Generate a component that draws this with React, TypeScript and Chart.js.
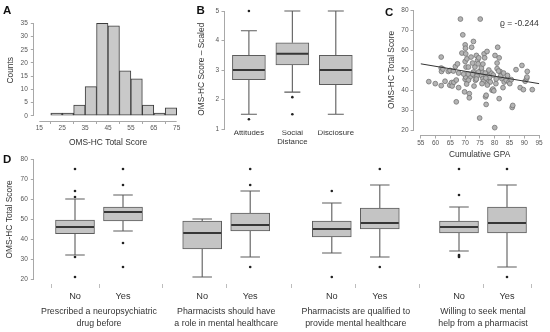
import React, { useEffect, useRef } from 'react';
import { Chart, registerables } from 'chart.js';

Chart.register(...registerables);

const FONT = "'Liberation Sans', Arial, Helvetica, sans-serif";
Chart.defaults.font.family = FONT;

// ---------- Panel A: histogram ----------
const histBinCenters = [22.5, 27.5, 32.5, 37.5, 42.5, 47.5, 52.5, 57.5, 62.5, 67.5, 72.5];
const histCounts = [1, 1, 4, 11, 35, 34, 17, 14, 4, 1, 3];
const histXTicks = [15, 25, 35, 45, 55, 65, 75];
const histYTicks = [0, 5, 10, 15, 20, 25, 30, 35];

// ---------- Panel B: subscale box plots ----------
const bCategories: (string | string[])[] = ['Attitudes', ['Social', 'Distance'], 'Disclosure'];
const bPositions = [1, 2, 3];
const bLow = [1.5, 2.25, 1.5];
const bQ1 = [2.67, 3.17, 2.5];
const bMed = [3, 3.55, 3];
const bQ3 = [3.5, 3.92, 3.5];
const bHigh = [4.33, 5, 5];
const bOutliers = [[5, 1.33], [2.08, 1.5], []];
const bYTicks = [1, 2, 3, 4, 5];

// ---------- Panel C: scatter vs GPA ----------
const gpa = [
  57.7, 59.9, 61.9, 61.9, 62, 61.9, 63.2, 64.3, 64.9, 64.8, 65.4, 65.6, 66.2, 66.7, 67.4, 67, 67.8, 67.8,
  68.4, 69.2, 68.9, 69.8, 70, 70.2, 70, 70.1, 70.2, 70, 70.6, 70.3, 71.1, 71.4, 71.4, 71.7, 71.1, 72, 72.2,
  72.8, 72.8, 73.1, 73.3, 73.5, 73.8, 74.2, 74.4, 74.6, 75.1, 74.9, 75.3, 75.5, 75.8, 76, 76.2, 76.4, 76.6,
  75.7, 76.9, 77.1, 77.4, 77.7, 77.9, 78.2, 78.5, 78.8, 79.1, 79.4, 79.7, 80, 80.1, 80.4, 80.8, 80.8, 81,
  81.5, 81.5, 81.8, 82.4, 82.8, 83.2, 83.9, 84.3, 84.8, 85.1, 85.6, 85.9, 86.1, 87.2, 88.6, 89.2, 89.7,
  90.3, 90.8, 91, 92.7, 72.5, 74, 76.8, 77, 79.5, 71, 73.8, 75.5, 78, 74.5, 76, 72.5, 69.5, 67, 82, 83,
  77.5, 80.5, 70.5, 73, 81.3, 77.1, 84.3, 90.9, 62.5, 66,
];
const omsTotal = [
  44.2, 43.2, 56.5, 51, 49.3, 42.2, 44.4, 49.3, 49.8, 42.4, 43.7, 42, 43.9, 51.8, 53.1, 34.1, 41.2, 48.5,
  75.5, 67.6, 58.5, 39.1, 45.4, 46.5, 62.6, 60.9, 58.1, 54.3, 55.6, 51.5, 51.5, 38.2, 36.1, 46.5, 44.9, 56.5, 61.4,
  64.3, 49, 47.3, 51.5, 44.9, 57.3, 54.8, 53.1, 56.1, 75.5, 26, 49.8, 47.3, 49, 45.7, 44.4, 58.1, 56.1,
  43.2, 36.6, 32.8, 59.3, 47.3, 44.9, 46.2, 44, 48.5, 39.9, 40.5, 39.6, 21.2, 57.3, 43.2, 53.5, 50.7, 61.4,
  56.1, 35.7, 49.3, 45.7, 41.2, 44, 44.9, 46.8, 44, 43.2, 45.2, 31.3, 32.3, 50.2, 41.2, 52.3, 40.2,
  44.4, 45.7, 49.3, 40.2, 48, 47, 48.5, 46, 47.5, 48, 45.5, 51, 50, 49, 53, 53.5, 48, 45, 47, 48.5,
  42.5, 45.5, 43, 42, 49.5, 37.4, 47.3, 46.5, 50.5, 49.5,
];
const fitX = [55, 95];
const fitY = [53.1, 43.2];
const cXTicks = [55, 60, 65, 70, 75, 80, 85, 90, 95];
const cYTicks = [20, 30, 40, 50, 60, 70, 80];
const rhoLabel = 'ϱ = -0.244';

// ---------- Panel D: grouped box plots ----------
const dGroupLabels = [
  ['Prescribed a neuropsychiatric', 'drug before'],
  ['Pharmacists should have', 'a role in mental healthcare'],
  ['Pharmacists are qualified to', 'provide mental healthcare'],
  ['Willing to seek mental', 'help from a pharmacist'],
];
const dGroupCenters = [0.5, 3.15, 5.85, 8.5];
const dCategories = ['No', 'Yes', 'No', 'Yes', 'No', 'Yes', 'No', 'Yes'];
const dPositions = [0, 1, 2.65, 3.65, 5.35, 6.35, 8, 9];
const dLow = [32, 44, 21, 31, 33, 31, 34, 26];
const dQ1 = [42.7, 49, 35, 44, 41, 45, 43, 43];
const dMed = [46, 53.5, 43, 47, 45, 48, 46, 48];
const dQ3 = [49.5, 56, 49, 53, 49, 55.5, 49, 56];
const dHigh = [60, 62, 50, 64, 58, 67, 56, 67];
const dOutliers = [
  [75, 64, 61, 31, 21],
  [75, 67, 38, 26],
  [],
  [75, 67, 26],
  [64, 21],
  [75, 26],
  [75, 62, 32, 31.5, 31],
  [75, 21],
];
const dYTicks = [20, 30, 40, 50, 60, 70, 80];

// ---------- styling ----------
const AXIS = '#a8a8a8';
const TICKTXT = '#555555';
const TXT = '#333333';
const numFont = { family: FONT, size: 6.5 };
const titleFont = { family: FONT, size: 8.4 };

function tickSetter(values: number[]) {
  return (scale: any) => {
    scale.ticks = values.map((v) => ({ value: v }));
  };
}
function zeroPad(s: any) {
  s.paddingLeft = 0;
  s.paddingRight = 0;
  s.paddingTop = 0;
  s.paddingBottom = 0;
}
function fixWidth(w: number) {
  return (s: any) => {
    s.width = w;
    zeroPad(s);
  };
}
function fixHeight(h: number) {
  return (s: any) => {
    s.height = h;
    zeroPad(s);
  };
}

function rAxis(ids: string[]) {
  return {
    id: 'rAxis',
    afterDraw(chart: any) {
      const { ctx, chartArea } = chart;
      ctx.save();
      ctx.strokeStyle = AXIS;
      ctx.lineWidth = 1;
      ids.forEach((id) => {
        const s = chart.scales[id];
        const t = s.ticks;
        if (!t || !t.length) return;
        const a = s.getPixelForValue(t[0].value);
        const b = s.getPixelForValue(t[t.length - 1].value);
        ctx.beginPath();
        if (s.isHorizontal()) {
          const yy = Math.round(chartArea.bottom) + 0.5;
          ctx.moveTo(a, yy);
          ctx.lineTo(b, yy);
        } else {
          const xx = Math.round(chartArea.left) - 0.5;
          ctx.moveTo(xx, a);
          ctx.lineTo(xx, b);
        }
        ctx.stroke();
      });
      ctx.restore();
    },
  };
}

function boxExtras(
  pos: number[], low: number[], med: number[], q1: number[], q3: number[], high: number[],
  boxW: number, capW: number
) {
  return {
    id: 'boxExtras',
    afterDatasetsDraw(chart: any) {
      const { ctx } = chart;
      const x = chart.scales.x;
      const y = chart.scales.y;
      ctx.save();
      pos.forEach((p, i) => {
        const cx = x.getPixelForValue(p);
        const yl = y.getPixelForValue(low[i]);
        const yh = y.getPixelForValue(high[i]);
        const y1 = y.getPixelForValue(q1[i]);
        const y3 = y.getPixelForValue(q3[i]);
        const ym = y.getPixelForValue(med[i]);
        ctx.strokeStyle = '#5c5c5c';
        ctx.lineWidth = 1.1;
        ctx.beginPath();
        ctx.moveTo(cx, y3);
        ctx.lineTo(cx, yh);
        ctx.moveTo(cx, y1);
        ctx.lineTo(cx, yl);
        ctx.moveTo(cx - capW / 2, yh);
        ctx.lineTo(cx + capW / 2, yh);
        ctx.moveTo(cx - capW / 2, yl);
        ctx.lineTo(cx + capW / 2, yl);
        ctx.stroke();
        ctx.strokeStyle = '#363636';
        ctx.lineWidth = 2;
        ctx.beginPath();
        ctx.moveTo(cx - boxW / 2 + 0.5, ym);
        ctx.lineTo(cx + boxW / 2 - 0.5, ym);
        ctx.stroke();
      });
      ctx.restore();
    },
  };
}

const tickGrid = { display: true, drawOnChartArea: false, drawTicks: true, tickLength: 3.5, color: AXIS, lineWidth: 1 };
const noGrid = { display: false, drawTicks: false };
const noBorder = { display: false };
const basePlugins = { legend: { display: false }, tooltip: { enabled: false } };

// ---------- configs ----------
function makeA(): any {
  return {
    type: 'bar',
    data: {
      datasets: [
        {
          data: histBinCenters.map((x, i) => ({ x, y: histCounts[i] })),
          backgroundColor: '#c9c9c9',
          borderColor: '#3c3c3c',
          borderWidth: 1,
          borderSkipped: false,
          barPercentage: 1,
          categoryPercentage: 1,
        },
      ],
    },
    options: {
      responsive: false,
      animation: false,
      layout: { padding: { top: 20, right: 3.3, bottom: 0, left: 0 } },
      plugins: basePlugins,
      scales: {
        x: {
          type: 'linear', min: 12.8, max: 77.2, offset: false,
          afterBuildTicks: tickSetter(histXTicks), afterFit: fixHeight(29.5),
          grid: tickGrid, border: noBorder,
          ticks: { font: numFont, color: TICKTXT, padding: 0.5, maxRotation: 0, autoSkip: false },
          title: { display: true, text: 'OMS-HC Total Score', font: titleFont, color: TXT, padding: { top: 0, bottom: 2.6 } },
        },
        y: {
          type: 'linear', min: -1.8, max: 36.25,
          afterBuildTicks: tickSetter(histYTicks), afterFit: fixWidth(34.3),
          grid: tickGrid, border: noBorder,
          ticks: { font: numFont, color: TICKTXT, padding: 3, autoSkip: false },
          title: { display: true, text: 'Counts', font: titleFont, color: TXT, padding: { top: 5.6, bottom: 0 } },
        },
      },
    },
    plugins: [rAxis(['x', 'y'])],
  };
}

function makeB(): any {
  const outl: { x: number; y: number }[] = [];
  bOutliers.forEach((arr, i) => arr.forEach((v) => outl.push({ x: bPositions[i], y: v })));
  return {
    type: 'bar',
    data: {
      datasets: [
        { type: 'line', data: outl, showLine: false, pointRadius: 1.3, pointBackgroundColor: '#222', pointBorderWidth: 0 },
        {
          type: 'bar',
          data: bPositions.map((x, i) => ({ x, y: [bQ1[i], bQ3[i]] })),
          backgroundColor: '#c4c4c4',
          borderColor: '#5c5c5c',
          borderWidth: 1,
          borderSkipped: false,
          barThickness: 33,
        },
      ],
    },
    options: {
      responsive: false,
      animation: false,
      layout: { padding: { top: 8, right: 5.3, bottom: 0, left: 0 } },
      plugins: basePlugins,
      scales: {
        x: {
          type: 'linear', min: 0.45, max: 3.55, offset: false,
          afterBuildTicks: tickSetter(bPositions), afterFit: fixHeight(19.5),
          grid: noGrid, border: noBorder,
          ticks: {
            font: { family: FONT, size: 7.8, lineHeight: 1.15 }, color: TXT, padding: -2.3,
            maxRotation: 0, autoSkip: false,
            callback: (_v: any, i: number) => bCategories[i],
          },
        },
        y: {
          type: 'linear', min: 0.95, max: 5.1017,
          afterBuildTicks: tickSetter(bYTicks), afterFit: fixWidth(45),
          grid: tickGrid, border: noBorder,
          ticks: { font: numFont, color: TICKTXT, padding: 2.5, autoSkip: false },
          title: { display: true, text: 'OMS-HC Score – Scaled', font: titleFont, color: TXT, padding: { top: 16.6, bottom: 0 } },
        },
      },
    },
    plugins: [rAxis(['y']), boxExtras(bPositions, bLow, bMed, bQ1, bQ3, bHigh, 33, 16)],
  };
}

function makeC(): any {
  return {
    type: 'scatter',
    data: {
      datasets: [
        {
          type: 'line',
          data: fitX.map((x, i) => ({ x, y: fitY[i] })),
          borderColor: '#333',
          borderWidth: 1,
          pointRadius: 0,
          showLine: true,
        },
        {
          type: 'scatter',
          data: gpa.map((x, i) => ({ x, y: omsTotal[i] })),
          pointRadius: 2.4,
          pointBackgroundColor: '#b4b4b4',
          pointBorderColor: '#747474',
          pointBorderWidth: 0.8,
        },
      ],
    },
    options: {
      responsive: false,
      animation: false,
      layout: { padding: { top: 4, right: 1, bottom: 0, left: 0 } },
      plugins: basePlugins,
      scales: {
        x: {
          type: 'linear', min: 52.7, max: 97.07,
          afterBuildTicks: tickSetter(cXTicks), afterFit: fixHeight(27),
          grid: tickGrid, border: noBorder,
          ticks: { font: numFont, color: TICKTXT, padding: 1.1, maxRotation: 0, autoSkip: false },
          title: { display: true, text: 'Cumulative GPA', font: titleFont, color: TXT, padding: { top: 0, bottom: 2.6 } },
        },
        y: {
          type: 'linear', min: 17.51, max: 82.63,
          afterBuildTicks: tickSetter(cYTicks), afterFit: fixWidth(49),
          grid: tickGrid, border: noBorder,
          ticks: { font: numFont, color: TICKTXT, padding: 2, autoSkip: false },
          title: { display: true, text: 'OMS-HC Total Score', font: titleFont, color: TXT, padding: { top: 21.6, bottom: 0 } },
        },
      },
    },
    plugins: [rAxis(['x', 'y'])],
  };
}

function makeD(): any {
  const outl: { x: number; y: number }[] = [];
  dOutliers.forEach((arr, i) => arr.forEach((v) => outl.push({ x: dPositions[i], y: v })));
  return {
    type: 'bar',
    data: {
      datasets: [
        { type: 'line', data: outl, showLine: false, pointRadius: 1.3, pointBackgroundColor: '#222', pointBorderWidth: 0 },
        {
          type: 'bar',
          data: dPositions.map((x, i) => ({ x, y: [dQ1[i], dQ3[i]] })),
          backgroundColor: '#c4c4c4',
          borderColor: '#5c5c5c',
          borderWidth: 1,
          borderSkipped: false,
          barThickness: 39,
        },
      ],
    },
    options: {
      responsive: false,
      animation: false,
      layout: { padding: { top: 10, right: 10, bottom: 0, left: 0 } },
      plugins: basePlugins,
      scales: {
        x: {
          type: 'linear', min: -0.848, max: 9.6875, offset: false, weight: 0,
          afterBuildTicks: tickSetter(dPositions), afterFit: fixHeight(18),
          grid: { ...tickGrid, tickLength: 4, color: '#bdbdbd' }, border: noBorder,
          ticks: {
            font: { family: FONT, size: 9.2 }, color: TXT, padding: 3.3, maxRotation: 0, autoSkip: false,
            callback: (_v: any, i: number) => dCategories[i],
          },
        },
        x2: {
          type: 'linear', position: 'bottom', min: -0.848, max: 9.6875, offset: false, weight: 1,
          afterBuildTicks: tickSetter(dGroupCenters), afterFit: fixHeight(30),
          grid: noGrid, border: noBorder,
          ticks: {
            font: { family: FONT, size: 8.8, lineHeight: 1.33 }, color: TXT, padding: 3.9, maxRotation: 0, autoSkip: false,
            callback: (_v: any, i: number) => dGroupLabels[i],
          },
        },
        y: {
          type: 'linear', min: 17.5, max: 82,
          afterBuildTicks: tickSetter(dYTicks), afterFit: fixWidth(34.3),
          grid: tickGrid, border: noBorder,
          ticks: { font: numFont, color: TICKTXT, padding: 3, autoSkip: false },
          title: { display: true, text: 'OMS-HC Total Score', font: titleFont, color: TXT, padding: { top: 4.9, bottom: 0 } },
        },
      },
    },
    plugins: [rAxis(['y']), boxExtras(dPositions, dLow, dMed, dQ1, dQ3, dHigh, 39, 19.5)],
  };
}

function ChartCanvas(props: { make: () => any; left: number; top: number; width: number; height: number }) {
  const ref = useRef<HTMLCanvasElement>(null);
  useEffect(() => {
    const chart = new Chart(ref.current as HTMLCanvasElement, props.make());
    return () => chart.destroy();
  }, []);
  return (
    <canvas
      ref={ref}
      width={props.width}
      height={props.height}
      style={{ position: 'absolute', left: props.left, top: props.top, width: props.width, height: props.height }}
    />
  );
}

const letterStyle = (left: number, top: number): React.CSSProperties => ({
  position: 'absolute',
  left,
  top,
  fontFamily: FONT,
  fontWeight: 'bold',
  fontSize: 11.5,
  lineHeight: '11.5px',
  color: '#111',
});

export default function App() {
  return (
    <div style={{ position: 'absolute', left: 0, top: 0, width: 550, height: 332, background: '#fff', overflow: 'hidden' }}>
      <ChartCanvas make={makeA} left={0} top={0} width={185} height={150} />
      <ChartCanvas make={makeB} left={180} top={0} width={185} height={150} />
      <ChartCanvas make={makeC} left={365} top={0} width={185} height={162} />
      <ChartCanvas make={makeD} left={0} top={145} width={550} height={187} />
      <div style={letterStyle(3, 5.3)}>A</div>
      <div style={letterStyle(196.5, 5.3)}>B</div>
      <div style={letterStyle(385, 7)}>C</div>
      <div style={letterStyle(3, 153.6)}>D</div>
      <div
        style={{
          position: 'absolute', left: 500, top: 18, fontFamily: FONT, fontSize: 8.5,
          lineHeight: '10px', color: TXT, whiteSpace: 'nowrap',
        }}
      >
        {rhoLabel}
      </div>
    </div>
  );
}
